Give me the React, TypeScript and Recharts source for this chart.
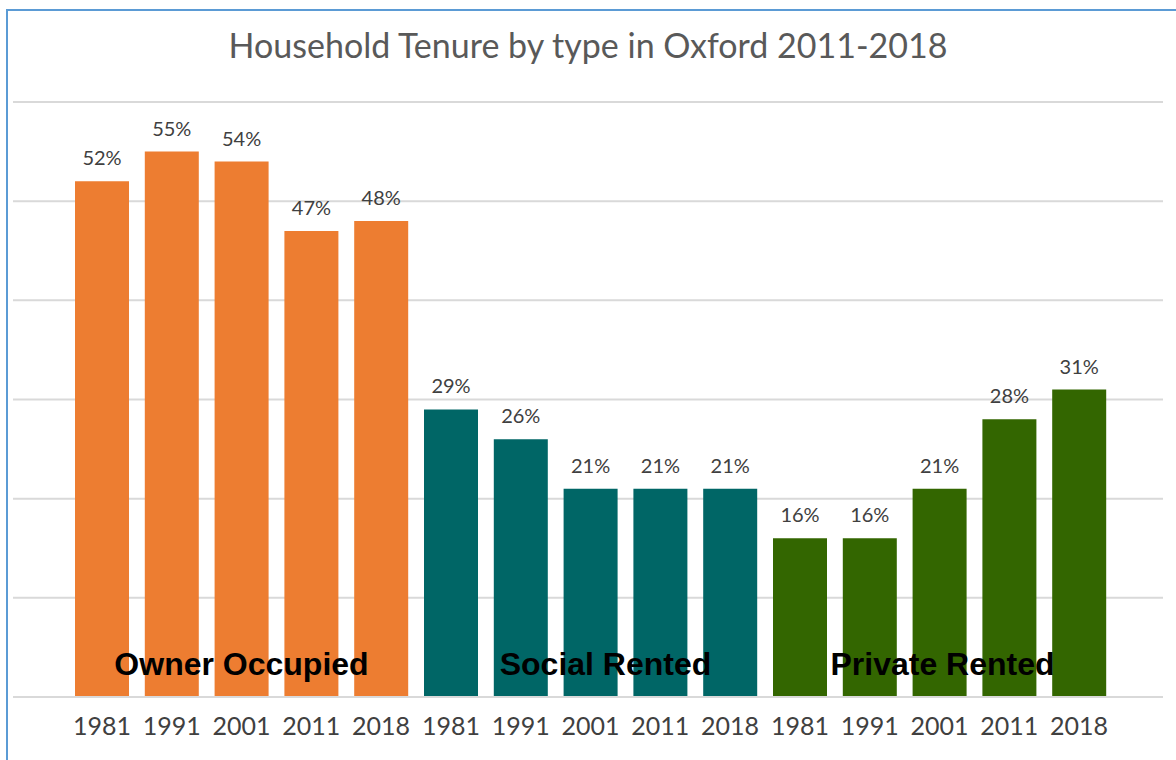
import React from 'react';
import { BarChart, Bar, XAxis, YAxis, CartesianGrid, Cell, LabelList, ReferenceDot } from 'recharts';

const title = 'Household Tenure by type in Oxford 2011-2018';
const groups = ['Owner Occupied', 'Social Rented', 'Private Rented'];
const groupKeys = ['owner', 'social', 'private'];
const years = ['1981', '1991', '2001', '2011', '2018'];
const ownerValues = [52, 55, 54, 47, 48];
const socialValues = [29, 26, 21, 21, 21];
const privateValues = [16, 16, 21, 28, 31];
const groupColors = ['#ED7D31', '#006666', '#336600'];
const yTicks = [0, 10, 20, 30, 40, 50, 60];
const groupLabelValue = 3.3;

const seriesValues = [ownerValues, socialValues, privateValues];
const data = groupKeys.flatMap((g, gi) =>
  years.map((y, yi) => ({ key: `${g}-${y}`, year: y, group: gi, value: seriesValues[gi][yi] }))
);
const yearOf: Record<string, string> = Object.fromEntries(data.map((d) => [d.key, d.year]));
const labelShift = [0, 15, 3];

const FONT = 'Lato, "Open Sans", sans-serif';

export default function App() {
  return (
    <div style={{ position: 'fixed', left: 0, top: 0, width: 1176, height: 760, overflow: 'hidden', background: '#fff' }}>
      <div style={{ position: 'absolute', left: 6, top: 9, width: 1300, height: 900, borderLeft: '2px solid #5B9BD5', borderTop: '2px solid #5B9BD5' }} />
      <div style={{ position: 'absolute', left: 0, top: 25, width: 1176, textAlign: 'center', fontFamily: FONT, fontSize: 34, lineHeight: '40px', color: '#595959' }}>
        {title}
      </div>
      <div style={{ position: 'absolute', left: 0, top: 0 }}>
        <BarChart width={1176} height={760} data={data} margin={{ top: 102, right: 13, bottom: 23, left: 13 }}>
          <CartesianGrid vertical={false} stroke="#D9D9D9" strokeWidth={2} />
          <XAxis
            dataKey="key"
            interval={0}
            height={40}
            padding={{ left: 54, right: 49 }}
            tickLine={false}
            axisLine={{ stroke: '#D9D9D9', strokeWidth: 2 }}
            tickMargin={14}
            tickFormatter={(k: string) => yearOf[k]}
            tick={{ fontSize: 25, fill: '#404040', fontFamily: FONT }}
          />
          <YAxis hide domain={[0, 60]} ticks={yTicks} />
          <Bar dataKey="value" barSize={54} isAnimationActive={false}>
            {data.map((d) => (
              <Cell key={d.key} fill={groupColors[d.group]} />
            ))}
            <LabelList
              dataKey="value"
              position="top"
              offset={16}
              formatter={(v: number) => `${v}%`}
              style={{ fontSize: 20, fill: '#404040', fontFamily: FONT }}
            />
          </Bar>
          {groupKeys.map((g, gi) => (
            <ReferenceDot
              key={g}
              x={`${g}-${years[2]}`}
              y={groupLabelValue}
              r={1}
              fill="none"
              stroke="none"
              label={{
                content: (p: any) => {
                  const vb = p.viewBox || {};
                  return (
                    <text
                      x={vb.x + (vb.width || 0) / 2 + labelShift[gi]}
                      y={vb.y + (vb.height || 0) / 2}
                      textAnchor="middle"
                      dominantBaseline="central"
                      fontFamily='"Liberation Sans", Arial, sans-serif'
                      fontWeight="bold"
                      fontSize={32}
                      fill="#000"
                    >
                      {groups[gi]}
                    </text>
                  );
                },
              }}
            />
          ))}
        </BarChart>
      </div>
    </div>
  );
}
